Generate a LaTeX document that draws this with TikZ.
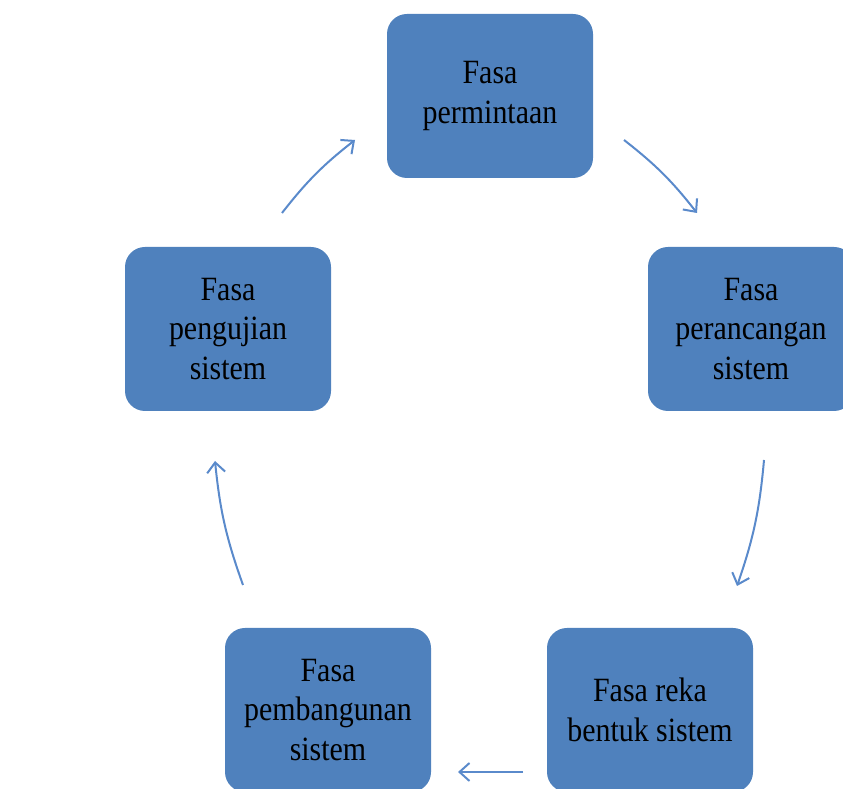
\documentclass[tikz,border=0pt]{standalone}
\usepackage{fontspec}
\newfontfamily\boxfont[FakeStretch=0.88]{Liberation Serif}
\usetikzlibrary{arrows.meta}
\definecolor{boxblue}{HTML}{4F81BD}
\definecolor{arrowblue}{HTML}{5A8ACB}
\tikzset{
  phase/.style={fill=boxblue, draw=none, rounded corners=20pt, minimum width=206pt, minimum height=164pt,
    align=center, text=black, font=\boxfont\fontsize{34}{39.5}\selectfont, inner sep=0pt},
  flow/.style={draw=arrowblue, line width=2pt, -{Straight Barb[length=10pt,width=18pt,line width=2pt]}, bend left=7}
}
\begin{document}
\begin{tikzpicture}[x=1pt,y=1pt]
\useasboundingbox (0,0) rectangle (843,789);
\clip (0,0) rectangle (843,789);
\node[phase] (req) at (490,693) {Fasa\\permintaan};
\node[phase] (des) at (751,460) {Fasa\\perancangan\\sistem};
\node[phase] (form) at (650,79) {Fasa reka\\bentuk sistem};
\node[phase] (build) at (328,79) {Fasa\\pembangunan\\sistem};
\node[phase] (test) at (228,460) {Fasa\\pengujian\\sistem};
\coordinate (a1s) at (282,576); \coordinate (a1e) at (355,649);
\coordinate (a2s) at (624,649); \coordinate (a2e) at (697,576);
\coordinate (a3s) at (764,329); \coordinate (a3e) at (737,203);
\coordinate (a4s) at (523,17);  \coordinate (a4e) at (458,17);
\coordinate (a5s) at (243,204); \coordinate (a5e) at (215,328);
\draw[flow] (a1s) to (a1e);
\draw[flow] (a2s) to (a2e);
\draw[flow] (a3s) to (a3e);
\draw[flow, bend left=0] (a4s) to (a4e);
\draw[flow] (a5s) to (a5e);
\end{tikzpicture}
\end{document}
